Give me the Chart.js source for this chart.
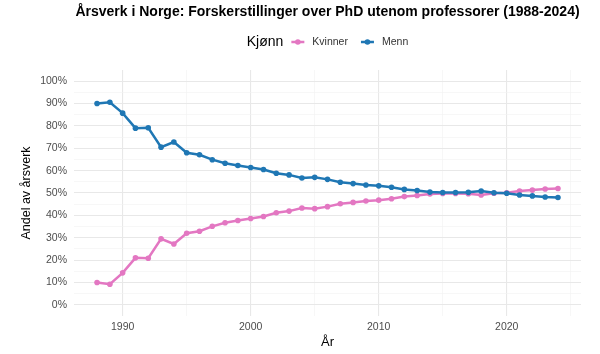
<!DOCTYPE html>
<html>
<head>
<meta charset="utf-8">
<script src="https://cdn.jsdelivr.net/npm/chart.js@4"></script>
<style>
  html, body { margin: 0; padding: 0; background: #fff; }
  canvas { display: block; }
</style>
</head>
<body>
<canvas id="grafico" width="600" height="354"></canvas>
<script>
const years = [1988, 1989, 1990, 1991, 1992, 1993, 1994, 1995, 1996, 1997, 1998, 1999,
  2000, 2001, 2002, 2003, 2004, 2005, 2006, 2007, 2008, 2009, 2010, 2011, 2012,
  2013, 2014, 2015, 2016, 2017, 2018, 2019, 2020, 2021, 2022, 2023, 2024];

const kvinner = [10.0, 9.2, 14.3, 21.0, 20.8, 29.5, 27.2, 32.0, 32.9, 35.1, 36.7, 37.7,
  38.6, 39.5, 41.2, 41.9, 43.3, 43.0, 43.9, 45.2, 45.8, 46.4, 46.8, 47.4, 48.4,
  48.9, 49.6, 49.8, 49.8, 49.7, 49.1, 49.9, 50.1, 50.9, 51.3, 51.8, 52.0];

const menn = [90.0, 90.6, 85.7, 79.0, 79.2, 70.5, 72.8, 68.0, 67.1, 64.9, 63.3, 62.3,
  61.4, 60.5, 58.8, 58.1, 56.7, 57.0, 56.1, 54.8, 54.2, 53.6, 53.2, 52.6, 51.6,
  51.1, 50.4, 50.2, 50.2, 50.3, 50.9, 50.1, 49.9, 49.1, 48.7, 48.2, 48.0];

const xTicks = [1990, 1995, 2000, 2005, 2010, 2015, 2020, 2025];
const yTicks = [0, 5, 10, 15, 20, 25, 30, 35, 40, 45, 50, 55, 60, 65, 70, 75, 80, 85, 90, 95, 100];

const tittel = 'Årsverk i Norge: Forskerstillinger over PhD utenom professorer (1988-2024)';
const legendTittel = 'Kjønn';

const FONT = '"Liberation Sans", Arial, Helvetica, sans-serif';
const majorGrid = '#e8e8e8';
const minorGrid = '#f2f2f2';

function serie(verdier) {
  return years.map((ar, i) => ({ x: ar, y: verdier[i] }));
}

// tittel og legende tegnes over plottepanelet, sentrert på panelet (som ggplot)
const topp = {
  id: 'topp',
  afterDraw(chart) {
    const ctx = chart.ctx;
    const area = chart.chartArea;
    const midt = (area.left + area.right) / 2;
    ctx.save();
    ctx.textBaseline = 'middle';

    ctx.font = 'bold 14px ' + FONT;
    ctx.fillStyle = '#000';
    ctx.textAlign = 'center';
    ctx.fillText(tittel, midt, 12);

    // legende
    const y = 42;
    ctx.textAlign = 'left';
    ctx.font = '14px ' + FONT;
    const tittelB = ctx.measureText(legendTittel).width;
    ctx.font = '10.5px ' + FONT;
    const items = chart.data.datasets.map(ds => ({
      label: ds.label,
      color: ds.borderColor,
      w: ctx.measureText(ds.label).width
    }));
    const nokkel = 17, gap = 6, mellom = 11;
    let total = tittelB + gap;
    items.forEach((it, i) => {
      total += nokkel + gap + it.w + (i < items.length - 1 ? mellom : 0);
    });
    let x = midt - total / 2;
    ctx.font = '14px ' + FONT;
    ctx.fillStyle = '#000';
    ctx.fillText(legendTittel, x, y);
    x += tittelB + gap;
    ctx.font = '10.5px ' + FONT;
    items.forEach(it => {
      ctx.strokeStyle = it.color;
      ctx.lineWidth = 2.5;
      ctx.beginPath();
      ctx.moveTo(x + 2, y);
      ctx.lineTo(x + nokkel - 2, y);
      ctx.stroke();
      ctx.fillStyle = it.color;
      ctx.beginPath();
      ctx.arc(x + nokkel / 2, y, 2.8, 0, Math.PI * 2);
      ctx.fill();
      x += nokkel + gap;
      ctx.fillStyle = '#333';
      ctx.fillText(it.label, x, y);
      x += it.w + mellom;
    });
    ctx.restore();
  }
};

const ctx = document.getElementById('grafico').getContext('2d');
const chart = new Chart(ctx, {
  type: 'line',
  data: {
    datasets: [{
      label: 'Kvinner',
      data: serie(kvinner),
      borderColor: '#e377c2',
      backgroundColor: '#e377c2',
      pointBackgroundColor: '#e377c2',
      borderWidth: 2.5,
      pointRadius: 2.8,
      pointBorderWidth: 0,
      order: 1
    }, {
      label: 'Menn',
      data: serie(menn),
      borderColor: '#1f77b4',
      backgroundColor: '#1f77b4',
      pointBackgroundColor: '#1f77b4',
      borderWidth: 2.5,
      pointRadius: 2.8,
      pointBorderWidth: 0,
      order: 0
    }]
  },
  options: {
    responsive: false,
    animation: false,
    layout: { padding: { top: 70, right: 19, left: 0, bottom: 0 } },
    plugins: {
      legend: { display: false },
      title: { display: false },
      tooltip: { enabled: false }
    },
    scales: {
      x: {
        type: 'linear',
        min: 1986.2,
        max: 2025.8,
        afterBuildTicks: s => { s.ticks = xTicks.map(v => ({ value: v })); },
        afterFit: s => { s.height = 38; },
        border: { display: false },
        grid: {
          drawTicks: false,
          color: c => (c.tick && c.tick.value % 10 === 0) ? majorGrid : minorGrid,
          lineWidth: c => (c.tick && c.tick.value % 10 === 0) ? 1.1 : 0.6
        },
        ticks: {
          autoSkip: false,
          maxRotation: 0,
          padding: 5,
          color: '#4d4d4d',
          font: { family: FONT, size: 10.5 },
          callback: v => v % 10 === 0 ? String(v) : ''
        },
        title: {
          display: true,
          text: 'År',
          color: '#000',
          font: { family: FONT, size: 13 },
          padding: { top: 2, bottom: 4 }
        }
      },
      y: {
        min: -5,
        max: 105,
        afterBuildTicks: s => { s.ticks = yTicks.map(v => ({ value: v })); },
        afterFit: s => { s.width = 74; },
        border: { display: false },
        grid: {
          drawTicks: false,
          color: c => (c.tick && c.tick.value % 10 === 0) ? majorGrid : minorGrid,
          lineWidth: c => (c.tick && c.tick.value % 10 === 0) ? 1.1 : 0.6
        },
        ticks: {
          autoSkip: false,
          padding: 7,
          color: '#4d4d4d',
          font: { family: FONT, size: 10.5 },
          callback: v => v % 10 === 0 ? v + '%' : ''
        },
        title: {
          display: true,
          text: 'Andel av årsverk',
          color: '#000',
          font: { family: FONT, size: 12.5 },
          padding: { top: 19, bottom: 0 }
        }
      }
    }
  },
  plugins: [topp]
});
</script>
</body>
</html>
